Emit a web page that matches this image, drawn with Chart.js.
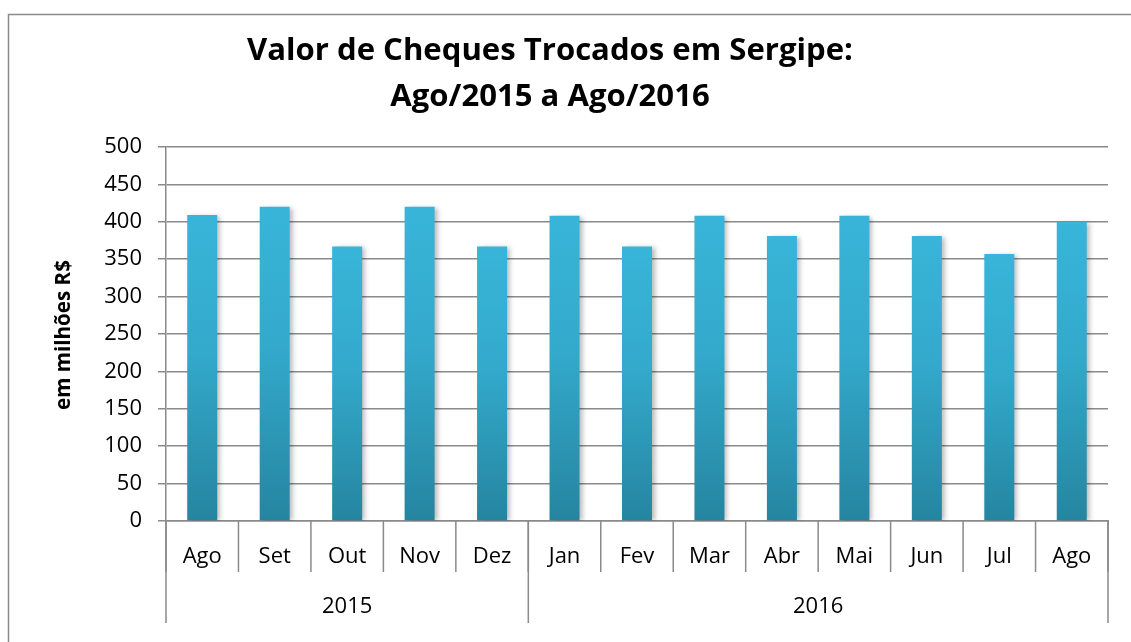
<!DOCTYPE html>
<html>
<head>
<meta charset="utf-8">
<script src="https://cdn.jsdelivr.net/npm/chart.js@4.4.1/dist/chart.umd.min.js"></script>
<style>
  html, body { margin: 0; padding: 0; background: #fff; }
  #wrap { position: relative; width: 1131px; height: 642px; }
  canvas { display: block; }
</style>
</head>
<body>
<div id="wrap"><canvas id="c" width="1131" height="642"></canvas></div>
<script>
// ---- data ----
const months = ["Ago", "Set", "Out", "Nov", "Dez", "Jan", "Fev", "Mar", "Abr", "Mai", "Jun", "Jul", "Ago"];
const years = ["2015", "2016"];
const yearSpans = [5, 8];
const values = [409, 420, 367, 420, 367, 408, 367, 408, 381, 408, 381, 357, 400];
const yTicks = [0, 50, 100, 150, 200, 250, 300, 350, 400, 450, 500];
const titleLines = ["Valor de Cheques Trocados em Sergipe:", "Ago/2015 a Ago/2016"];
const yTitle = "em milhões R$";

const FONT = "'Open Sans', 'Noto Sans', sans-serif";
const GRID = '#8a8a8a';

function fitFont(ctx, text, weight, target) {
  ctx.font = weight + ' 100px ' + FONT;
  const w = ctx.measureText(text).width;
  return 100 * target / w;
}

const decor = {
  id: 'decor',
  beforeDraw(chart) {
    const c = chart.ctx;
    c.save();
    c.strokeStyle = GRID;
    c.lineWidth = 1.5;
    c.strokeRect(8.5, 14.5, 1400, 1000);
    c.restore();
  },
  beforeDatasetsDraw(chart) {
    const c = chart.ctx;
    c.save();
    c.shadowColor = 'rgba(0,0,0,0.28)';
    c.shadowBlur = 5;
    c.shadowOffsetX = 3;
    c.shadowOffsetY = 1;
  },
  afterDatasetsDraw(chart) {
    chart.ctx.restore();
  },
  afterDraw(chart) {
    const c = chart.ctx;
    const x = chart.scales.x;
    const area = chart.chartArea;
    const half = (x.getPixelForValue(1) - x.getPixelForValue(0)) / 2;
    c.save();
    c.strokeStyle = GRID;
    c.lineWidth = 1.5;
    // month separators
    for (let i = 0; i <= months.length; i++) {
      const px = (i < months.length ? x.getPixelForValue(i) - half : x.getPixelForValue(months.length - 1) + half);
      c.beginPath();
      c.moveTo(px, area.bottom);
      c.lineTo(px, area.bottom + 51);
      c.stroke();
    }
    // year separators & labels
    let start = 0;
    c.fillStyle = '#000';
    c.textAlign = 'center';
    c.textBaseline = 'middle';
    c.font = '22px ' + FONT;
    const bounds = [x.getPixelForValue(0) - half];
    years.forEach((yr, k) => {
      const end = start + yearSpans[k] - 1;
      const l = x.getPixelForValue(start) - half;
      const r = x.getPixelForValue(end) + half;
      bounds.push(r);
      c.fillText(yr, (l + r) / 2, area.bottom + 86);
      start = end + 1;
    });
    bounds.forEach(px => {
      c.beginPath();
      c.moveTo(px, area.bottom);
      c.lineTo(px, area.bottom + 102);
      c.stroke();
    });
    // title
    const ts = fitFont(c, titleLines[0], 'bold', 606);
    c.font = 'bold ' + ts + 'px ' + FONT;
    c.fillText(titleLines[0], 550, 51);
    c.fillText(titleLines[1], 550, 97);
    // y title
    const ys = fitFont(c, yTitle, 'bold', 150);
    c.font = 'bold ' + ys + 'px ' + FONT;
    c.translate(64, 335);
    c.rotate(-Math.PI / 2);
    c.fillText(yTitle, 0, 0);
    c.restore();
  }
};

function barGradient(ctx) {
  const chart = ctx.chart;
  const area = chart.chartArea;
  if (!area || ctx.parsed === undefined) return '#35acd0';
  const yTop = chart.scales.y.getPixelForValue(ctx.parsed.y);
  const g = chart.ctx.createLinearGradient(0, yTop, 0, area.bottom);
  g.addColorStop(0, '#38b5d9');
  g.addColorStop(0.45, '#33a9cb');
  g.addColorStop(1, '#2585a0');
  return g;
}

new Chart(document.getElementById('c'), {
  type: 'bar',
  data: {
    labels: months,
    datasets: [{
      data: values,
      backgroundColor: barGradient,
      borderWidth: 0,
      barPercentage: 0.6,
      categoryPercentage: 0.69
    }]
  },
  options: {
    responsive: false,
    animation: false,
    events: [],
    layout: { padding: { top: 147, right: 23, left: 0, bottom: 0 } },
    plugins: { legend: { display: false }, tooltip: { enabled: false }, title: { display: false } },
    scales: {
      x: {
        offset: true,
        grid: { display: false, drawTicks: false },
        border: { display: true, color: GRID, width: 1.5 },
        ticks: { color: '#000', font: { family: FONT, size: 22 }, padding: 23, maxRotation: 0, autoSkip: false },
        afterFit(s) { s.height = 121; }
      },
      y: {
        min: 0, max: 500,
        afterBuildTicks(s) { s.ticks = yTicks.map(v => ({ value: v })); },
        grid: { color: GRID, lineWidth: 1.5, tickLength: 8 },
        border: { display: true, color: GRID, width: 1.5 },
        ticks: { color: '#000', font: { family: FONT, size: 22 }, padding: 16 },
        afterFit(s) { s.width = 166; }
      }
    }
  },
  plugins: [decor]
});
</script>
</body>
</html>
